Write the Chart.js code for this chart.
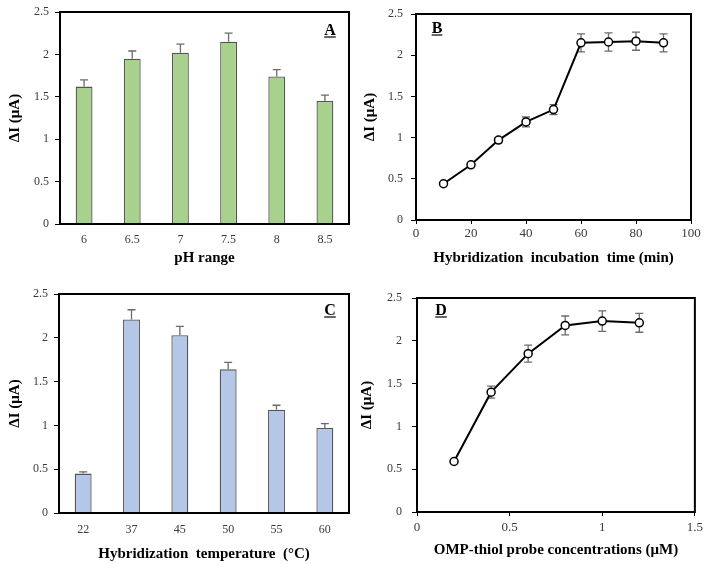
<!DOCTYPE html>
<html>
<head>
<meta charset="utf-8">
<script src="https://cdn.jsdelivr.net/npm/chart.js@4.4.1/dist/chart.umd.min.js"></script>
<style>
  body { margin: 0; background: #fff; }
  #wrap { position: relative; width: 708px; height: 564px; }
  canvas { position: absolute; }
</style>
</head>
<body>
<div id="wrap">
  <canvas id="chartA" width="354" height="282" style="left:0;top:0"></canvas>
  <canvas id="chartB" width="354" height="282" style="left:354px;top:0"></canvas>
  <canvas id="chartC" width="354" height="282" style="left:0;top:282px"></canvas>
  <canvas id="chartD" width="354" height="282" style="left:354px;top:282px"></canvas>
</div>
<script>
// Panel A - pH
const phLabels = ['6', '6.5', '7', '7.5', '8', '8.5'];
const phCurrent = [1.62, 1.95, 2.02, 2.15, 1.74, 1.45];
const phErrors = [0.08, 0.09, 0.10, 0.10, 0.08, 0.07];

// Panel B - incubation time
const timeMinutes = [10, 20, 30, 40, 50, 60, 70, 80, 90];
const timeCurrent = [0.44, 0.67, 0.97, 1.19, 1.34, 2.15, 2.16, 2.17, 2.15];
const timeErrors = [0.02, 0.02, 0.03, 0.06, 0.06, 0.11, 0.11, 0.11, 0.11];

// Panel C - temperature
const tempLabels = ['22', '37', '45', '50', '55', '60'];
const tempCurrent = [0.45, 2.21, 2.03, 1.64, 1.18, 0.97];
const tempErrors = [0.02, 0.11, 0.10, 0.08, 0.05, 0.05];

// Panel D - probe concentration
const probeConc = [0.2, 0.4, 0.6, 0.8, 1.0, 1.2];
const probeCurrent = [0.59, 1.40, 1.85, 2.18, 2.23, 2.21];
const probeErrors = [0.02, 0.07, 0.10, 0.11, 0.12, 0.11];

const yTicks = { min: 0, max: 2.5, step: 0.5 };

const serif = "'Liberation Serif', 'Times New Roman', serif";
const plainNum = v => String(Math.round(v * 100) / 100);

// error bars + frame + panel letter
const panelExtras = {
  id: 'panelExtras',
  beforeDatasetsDraw(chart) {
    const ctx = chart.ctx;
    const opts = chart.options.plugins.panelExtras;
    const meta = chart.getDatasetMeta(0);
    const ds = chart.data.datasets[0];
    const yScale = chart.scales.y;
    ctx.save();
    ctx.strokeStyle = '#6b6b6b';
    ctx.lineWidth = 1.3;
    meta.data.forEach((el, i) => {
      const v = opts.isBar ? ds.data[i] : ds.data[i].y;
      const err = opts.errors[i];
      const yTop = yScale.getPixelForValue(v + err);
      const yBot = opts.isBar ? yScale.getPixelForValue(v) : yScale.getPixelForValue(v - err);
      const x = el.x;
      ctx.beginPath();
      ctx.moveTo(x, yBot);
      ctx.lineTo(x, yTop);
      ctx.moveTo(x - 4, yTop);
      ctx.lineTo(x + 4, yTop);
      if (!opts.isBar) {
        ctx.moveTo(x - 4, yBot);
        ctx.lineTo(x + 4, yBot);
      }
      ctx.stroke();
    });
    ctx.restore();
  },
  afterDraw(chart) {
    const ctx = chart.ctx;
    const opts = chart.options.plugins.panelExtras;
    const a = chart.chartArea;
    ctx.save();
    ctx.strokeStyle = '#000';
    ctx.lineWidth = 2;
    ctx.strokeRect(a.left, a.top, a.right - a.left, a.bottom - a.top);
    // panel letter, underlined
    ctx.font = 'bold 16px ' + serif;
    ctx.fillStyle = '#000';
    ctx.textAlign = 'center';
    ctx.textBaseline = 'alphabetic';
    ctx.fillText(opts.letter, opts.letterX, opts.letterY);
    const w = ctx.measureText(opts.letter).width;
    ctx.lineWidth = 1.2;
    ctx.beginPath();
    ctx.moveTo(opts.letterX - w / 2, opts.letterY + 2);
    ctx.lineTo(opts.letterX + w / 2, opts.letterY + 2);
    ctx.stroke();
    ctx.restore();
  }
};

function yAxis(width, labelPad, titlePad) {
  return {
    min: yTicks.min,
    max: yTicks.max,
    afterFit: s => { s.width = width; },
    border: { color: '#000', width: 2 },
    grid: { drawOnChartArea: false, tickLength: 5, color: '#000', tickWidth: 1 },
    ticks: {
      stepSize: yTicks.step,
      padding: labelPad,
      color: '#3a3a3a',
      callback: plainNum,
      font: { family: serif, size: 12, lineHeight: 1 }
    },
    title: {
      display: true,
      text: 'ΔI (μA)',
      color: '#000',
      padding: { top: titlePad, bottom: 0 },
      font: { family: serif, size: 15, weight: 'bold', lineHeight: 1.2 }
    }
  };
}

function xTitle(text, pad) {
  return {
    display: true,
    text: text,
    color: '#000',
    padding: { top: 0, bottom: pad },
    font: { family: serif, size: 15, weight: 'bold', lineHeight: 1.2 }
  };
}

function barPanel(id, labels, values, errors, fill, o) {
  return new Chart(document.getElementById(id), {
    type: 'bar',
    data: {
      labels: labels,
      datasets: [{
        data: values,
        backgroundColor: fill,
        borderColor: '#555',
        borderWidth: 1.3,
        categoryPercentage: 1,
        barPercentage: 0.35
      }]
    },
    options: {
      responsive: false,
      animation: false,
      devicePixelRatio: 1,
      layout: { padding: { left: 0, top: o.top, right: o.right, bottom: 0 } },
      plugins: {
        legend: { display: false },
        tooltip: { enabled: false },
        panelExtras: { isBar: true, errors: errors, letter: o.letter, letterX: o.letterX, letterY: o.letterY }
      },
      scales: {
        x: {
          afterFit: s => { s.height = o.xHeight; },
          border: { color: '#000', width: 2 },
          grid: { display: false, drawTicks: false },
          ticks: { padding: o.xLabelPad, color: '#3a3a3a', font: { family: serif, size: 12, lineHeight: 1 } },
          title: xTitle(o.xTitle, o.xTitlePad)
        },
        y: yAxis(o.yWidth, o.yLabelPad, o.yTitlePad)
      }
    },
    plugins: [panelExtras]
  });
}

function linePanel(id, xs, ys, errors, o) {
  const points = xs.map((x, i) => ({ x: x, y: ys[i] }));
  return new Chart(document.getElementById(id), {
    type: 'line',
    data: {
      datasets: [{
        data: points,
        borderColor: '#000',
        borderWidth: 2,
        pointRadius: 4,
        pointBorderWidth: 1.5,
        pointBackgroundColor: '#fff',
        pointBorderColor: '#000',
        tension: 0
      }]
    },
    options: {
      responsive: false,
      animation: false,
      devicePixelRatio: 1,
      layout: { padding: { left: 0, top: o.top, right: o.right, bottom: 0 } },
      plugins: {
        legend: { display: false },
        tooltip: { enabled: false },
        panelExtras: { isBar: false, errors: errors, letter: o.letter, letterX: o.letterX, letterY: o.letterY }
      },
      scales: {
        x: {
          type: 'linear',
          min: o.xMin,
          max: o.xMax,
          afterFit: s => { s.height = o.xHeight; },
          border: { color: '#000', width: 2 },
          grid: { drawOnChartArea: false, tickLength: 4, color: '#000' },
          ticks: {
            stepSize: o.xStep,
            padding: o.xLabelPad,
            color: '#3a3a3a',
            callback: plainNum,
            font: { family: serif, size: 13, lineHeight: 1 }
          },
          title: xTitle(o.xTitle, o.xTitlePad)
        },
        y: yAxis(o.yWidth, o.yLabelPad, o.yTitlePad)
      }
    },
    plugins: [panelExtras]
  });
}

barPanel('chartA', phLabels, phCurrent, phErrors, '#a9d18e', {
  top: 11, right: 5, yWidth: 60, xHeight: 58,
  yLabelPad: 6, yTitlePad: 6, xLabelPad: 10, xTitlePad: 15,
  xTitle: 'pH range', letter: 'A', letterX: 330, letterY: 35
});

linePanel('chartB', timeMinutes, timeCurrent, timeErrors, {
  top: 10, right: 17, yWidth: 62, xHeight: 62,
  xMin: 0, xMax: 100, xStep: 20,
  yLabelPad: 8, yTitlePad: 7, xLabelPad: 3, xTitlePad: 15,
  xTitle: 'Hybridization  incubation  time (min)', letter: 'B', letterX: 83, letterY: 33
});

barPanel('chartC', tempLabels, tempCurrent, tempErrors, '#b4c7e7', {
  top: 8, right: 5, yWidth: 59, xHeight: 51,
  yLabelPad: 6, yTitlePad: 6, xLabelPad: 11, xTitlePad: 1,
  xTitle: 'Hybridization  temperature  (°C)', letter: 'C', letterX: 330, letterY: 33
});

linePanel('chartD', probeConc, probeCurrent, probeErrors, {
  top: 7, right: 12, yWidth: 63, xHeight: 52,
  xMin: 0, xMax: 1.5, xStep: 0.5,
  yLabelPad: 10, yTitlePad: 4, xLabelPad: 5, xTitlePad: 5,
  xTitle: 'OMP-thiol probe concentrations (μM)', letter: 'D', letterX: 87, letterY: 33
});
</script>
</body>
</html>
